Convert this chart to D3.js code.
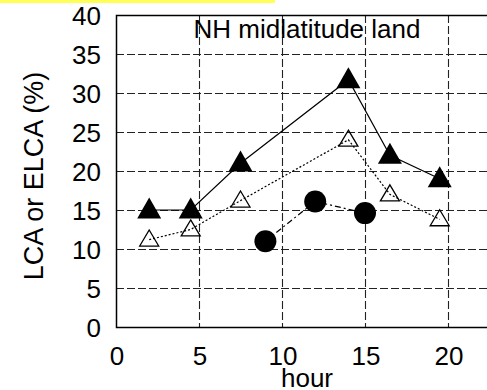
<!DOCTYPE html>
<html>
<head>
<meta charset="utf-8">
<script src="https://cdn.jsdelivr.net/npm/d3@7/dist/d3.min.js"></script>
<style>
  html, body { margin: 0; padding: 0; background: #fff; overflow: hidden; }
  svg { display: block; font-family: "Liberation Sans", Arial, Helvetica, sans-serif; }
</style>
</head>
<body>
<svg id="chart" width="487" height="390"></svg>
<script>
// Diurnal cycle of low cloud amount, NH midlatitude land
const lcaHours = [2, 4.5, 7.5, 14, 16.5, 19.5];
const lcaValues = [15, 15, 21, 31.7, 22, 19];

const elcaHours = [2, 4.5, 7.5, 14, 16.5, 19.5];
const elcaValues = [11.2, 12.5, 16.2, 24, 17, 13.8];

const obsHours = [9, 12, 15];
const obsValues = [11, 16.1, 14.6];

const xTicks = [0, 5, 10, 15, 20];
const yTicks = [0, 5, 10, 15, 20, 25, 30, 35, 40];

const titleText = "NH midlatitude land";
const xLabel = "hour";
const yLabel = "LCA or ELCA (%)";

const svg = d3.select("#chart");
const plotLeft = 116, plotTop = 15, plotBottom = 327;

const x = d3.scaleLinear().domain([0, 24]).range([plotLeft, plotLeft + 24 * 16.6]);
const y = d3.scaleLinear().domain([0, 40]).range([plotBottom, plotTop]);

// highlight strip along the top edge
svg.append("rect").attr("x", 0).attr("y", 0).attr("width", 275).attr("height", 3)
  .attr("fill", "#ffff55");

// grid
const grid = svg.append("g").attr("stroke", "#222").attr("stroke-width", 1.1)
  .attr("stroke-dasharray", "8,3").attr("fill", "none");
grid.selectAll("line.h").data(yTicks.filter(d => d > 0 && d < 40)).join("line")
  .attr("class", "h")
  .attr("x1", x(0)).attr("x2", 487)
  .attr("y1", d => y(d) + 0.5).attr("y2", d => y(d) + 0.5);
grid.selectAll("line.v").data(xTicks.filter(d => d > 0)).join("line")
  .attr("class", "v")
  .attr("y1", y(40)).attr("y2", y(0))
  .attr("x1", d => x(d) + 0.5).attr("x2", d => x(d) + 0.5);

// frame
svg.append("path")
  .attr("d", `M487,${y(40) + 0.5}H${x(0) + 0.5}V${y(0) + 0.5}H487`)
  .attr("fill", "none").attr("stroke", "#000").attr("stroke-width", 1.5);

// tick labels
svg.append("g").selectAll("text").data(yTicks).join("text")
  .attr("x", 101).attr("y", d => y(d) + 10)
  .attr("text-anchor", "end").attr("font-size", 26).attr("fill", "#000")
  .text(d => d);
svg.append("g").selectAll("text").data(xTicks).join("text")
  .attr("x", d => x(d) + 1).attr("y", 365)
  .attr("text-anchor", "middle").attr("font-size", 26).attr("fill", "#000")
  .text(d => d);

// axis titles
svg.append("text").attr("x", 307).attr("y", 387)
  .attr("text-anchor", "middle").attr("font-size", 26).text(xLabel);
svg.append("text")
  .attr("transform", `translate(43,176) rotate(-90)`)
  .attr("text-anchor", "middle").attr("font-size", 27).text(yLabel);

// panel title
svg.append("text").attr("x", 307).attr("y", 38)
  .attr("text-anchor", "middle").attr("font-size", 26).text(titleText);

const line = d3.line().x(d => x(d[0])).y(d => y(d[1]));
const lca = d3.zip(lcaHours, lcaValues);
const elca = d3.zip(elcaHours, elcaValues);
const obs = d3.zip(obsHours, obsValues);

svg.append("path").datum(elca).attr("d", line)
  .attr("fill", "none").attr("stroke", "#000").attr("stroke-width", 1.2)
  .attr("stroke-dasharray", "2,2");
svg.append("path").datum(lca).attr("d", line)
  .attr("fill", "none").attr("stroke", "#000").attr("stroke-width", 1.2);
svg.append("path").datum(obs).attr("d", line)
  .attr("fill", "none").attr("stroke", "#000").attr("stroke-width", 1.2)
  .attr("stroke-dasharray", "6,3,2,3");

const tri = (w, h) => `M0,${-h * 0.6}L${w / 2},${h * 0.4}L${-w / 2},${h * 0.4}Z`;

svg.append("g").selectAll("path").data(elca).join("path")
  .attr("transform", d => `translate(${x(d[0])},${y(d[1])})`)
  .attr("d", tri(19, 16)).attr("fill", "none")
  .attr("stroke", "#000").attr("stroke-width", 1.3);

svg.append("g").selectAll("path").data(lca).join("path")
  .attr("transform", d => `translate(${x(d[0])},${y(d[1])})`)
  .attr("d", tri(24, 21)).attr("fill", "#000");

svg.append("g").selectAll("circle").data(obs).join("circle")
  .attr("cx", d => x(d[0])).attr("cy", d => y(d[1])).attr("r", 11)
  .attr("fill", "#000");
</script>
</body>
</html>
